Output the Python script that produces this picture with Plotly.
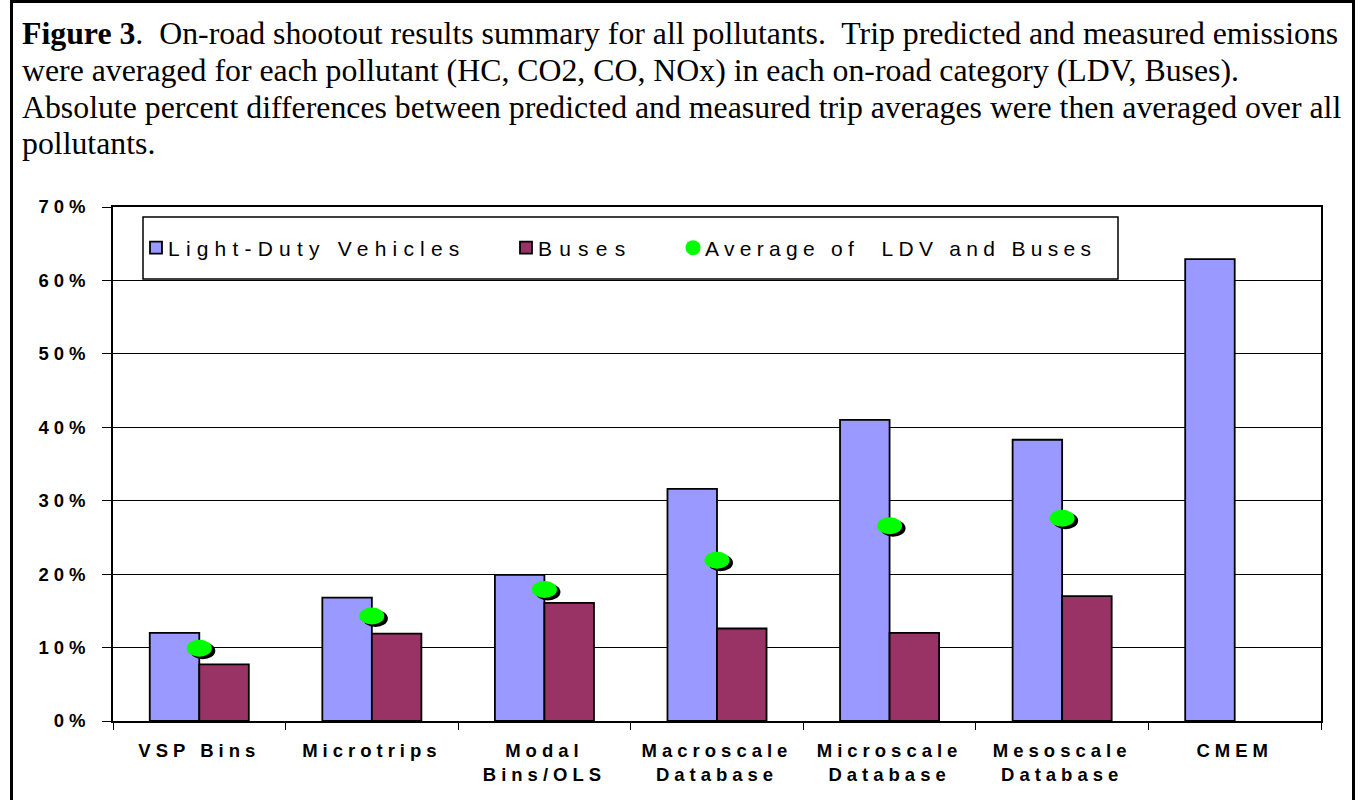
import plotly.graph_objects as go

# ---------------- data ----------------
categories = ["VSP Bins", "Microtrips", "Modal<br>Bins/OLS", "Macroscale<br>Database",
              "Microscale<br>Database", "Mesoscale<br>Database", "CMEM"]
ldv = [0.120, 0.168, 0.199, 0.316, 0.410, 0.383, 0.629]
buses = [0.077, 0.119, 0.161, 0.126, 0.120, 0.170, None]
average = [0.099, 0.143, 0.179, 0.219, 0.266, 0.276, None]
y_tick_values = [0.0, 0.1, 0.2, 0.3, 0.4, 0.5, 0.6, 0.7]
y_tick_labels = ["0%", "10%", "20%", "30%", "40%", "50%", "60%", "70%"]
series_names = ["Light-Duty Vehicles", "Buses", "Average of  LDV and Buses"]
caption_lines = [
    "<b>Figure 3</b>.  On-road shootout results summary for all pollutants.  Trip predicted and measured emissions",
    "were averaged for each pollutant (HC, CO2, CO, NOx) in each on-road category (LDV, Buses).",
    "Absolute percent differences between predicted and measured trip averages were then averaged over all",
    "pollutants.",
]

# ---------------- layout helpers ----------------
W, H = 1361, 800
def px(x):
    return x / W
def py(y):
    return 1 - y / H

SANS = "Liberation Sans, Arial, sans-serif"
SERIF = "Liberation Serif, Times New Roman, serif"
LDV_COLOR = "#9999FF"
BUS_COLOR = "#993366"
AVG_COLOR = "#00FF00"

fig = go.Figure()
fig.add_trace(go.Bar(
    x=categories, y=ldv, name=series_names[0],
    marker=dict(color=LDV_COLOR, line=dict(color="black", width=1.8)),
    legend="legend",
))
fig.add_trace(go.Bar(
    x=categories, y=buses, name=series_names[1],
    marker=dict(color=BUS_COLOR, line=dict(color="black", width=1.8)),
    legend="legend2",
))
fig.add_trace(go.Scatter(
    x=categories, y=average, name=series_names[2], mode="markers",
    marker=dict(color=AVG_COLOR, size=15, line=dict(width=0)),
    legend="legend3",
))

shapes = []
# legend box
shapes.append(dict(type="rect", xref="paper", yref="paper",
                   x0=px(143), x1=px(1118), y0=py(217), y1=py(279),
                   line=dict(color="black", width=1.5), fillcolor="white", layer="above"))
# outer frame
shapes.append(dict(type="rect", xref="paper", yref="paper",
                   x0=px(11.5), x1=px(1353.5), y0=py(1.5), y1=py(810),
                   line=dict(color="black", width=3), fillcolor="rgba(0,0,0,0)", layer="above"))
# average markers as shadowed ellipses anchored at data positions
for i, v in enumerate(average):
    if v is None:
        continue
    shapes.append(dict(type="circle", xref="x", yref="y", xsizemode="pixel", ysizemode="pixel",
                       xanchor=i, yanchor=v, x0=-9, x1=16, y0=-11, y1=6,
                       fillcolor="black", line=dict(width=0), layer="above"))
    shapes.append(dict(type="circle", xref="x", yref="y", xsizemode="pixel", ysizemode="pixel",
                       xanchor=i, yanchor=v, x0=-12.5, x1=12.5, y0=-8.5, y1=8.5,
                       fillcolor=AVG_COLOR, line=dict(width=0), layer="above"))

annotations = []
caption_y = [34, 70.5, 107, 143.5]
for line, yy in zip(caption_lines, caption_y):
    annotations.append(dict(text=line, xref="paper", yref="paper", x=px(20), y=py(yy),
                            xanchor="left", yanchor="middle", showarrow=False,
                            font=dict(family=SERIF, size=31.8, color="black")))

legend_common = dict(orientation="h", xanchor="left", yanchor="middle", bgcolor="rgba(0,0,0,0)",
                     borderwidth=0, itemwidth=30,
                     font=dict(family=SANS, size=21, color="black"))

fig.update_layout(
    width=W, height=H,
    margin=dict(l=0, r=0, t=0, b=0, autoexpand=False),
    paper_bgcolor="white", plot_bgcolor="rgba(0,0,0,0)",
    barmode="group", bargap=0.426, bargroupgap=0,
    showlegend=True,
    legend=dict(x=px(136), y=py(248), **legend_common),
    legend2=dict(x=px(506), y=py(248), **legend_common),
    legend3=dict(x=px(673), y=py(248), **legend_common),
    xaxis=dict(domain=[px(113), px(1321)], type="category", showline=True, linecolor="black",
               linewidth=1.5, mirror=True, ticks="outside", ticklen=7, tickcolor="black",
               tickson="boundaries", showgrid=False, ticklabelstandoff=12, automargin=False,
               tickfont=dict(family=SANS, size=18.5, color="black", weight="bold")),
    yaxis=dict(domain=[py(721), py(207)], range=[0, 0.7], tickvals=y_tick_values,
               ticktext=y_tick_labels, showline=True, linecolor="black", linewidth=1.5,
               mirror=True, ticks="outside", ticklen=9, tickcolor="black",
               showgrid=True, gridcolor="black", gridwidth=1, zeroline=False,
               ticklabelstandoff=8, automargin=False,
               tickfont=dict(family=SANS, size=18.5, color="black", weight="bold")),
    shapes=shapes, annotations=annotations,
)

# Letter-spaced chart text (as in the original Excel chart) and a page exactly the figure's size.
post = """
var st = document.createElement('style');
st.textContent = 'html, body {margin:0 !important; padding:0 !important; overflow:hidden; height:800px;}' +
  ' .plotly-graph-div {position:absolute !important; top:0; left:0;}' +
  ' .xtick text, .ytick text {letter-spacing:5px;}' +
  ' .legendtext, .legend2text, .legend3text {transform:translateX(-8px);}' +
  ' .legendtext {letter-spacing:6.2px;}' +
  ' .legend2text {letter-spacing:7.2px;}' +
  ' .legend3text {letter-spacing:5.3px;}' +
  ' .scrollbox {clip-path:none !important;}';
document.head.appendChild(st);
"""

fig.write_html("out.html", post_script=post, config={"displayModeBar": False})
